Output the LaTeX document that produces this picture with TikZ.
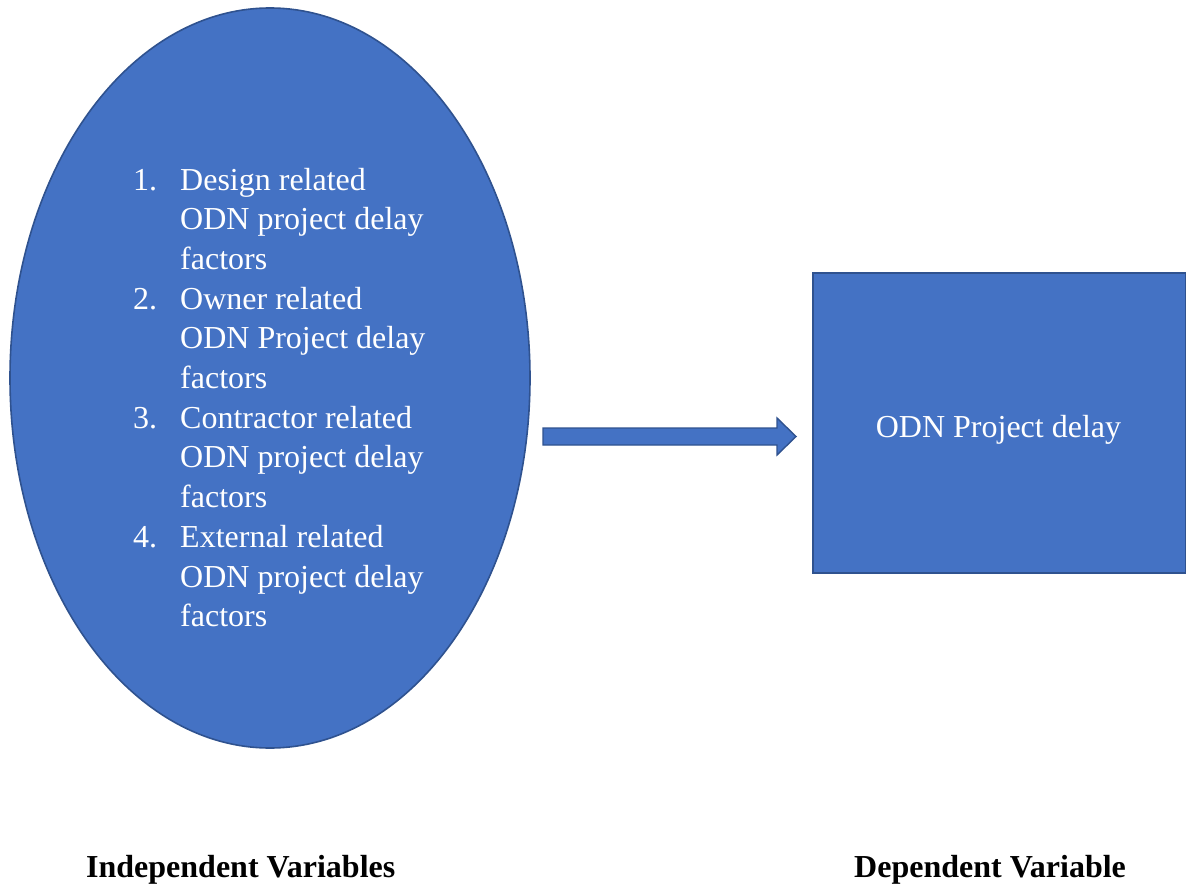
\documentclass[tikz,border=0pt]{standalone}
\usepackage{fontspec}
\setmainfont{Liberation Serif}
\usetikzlibrary{shapes.geometric,calc}
\definecolor{boxfill}{HTML}{4472C4}
\definecolor{boxline}{HTML}{2F528F}
\tikzset{
  shapefill/.style={fill=boxfill, draw=boxline, line width=1.6pt},
  whitetxt/.style={text=white, inner sep=0pt, font=\fontsize{32}{38}\selectfont},
  labeltxt/.style={text=black, inner sep=0pt, font=\fontsize{32}{38}\selectfont\bfseries},
}
\begin{document}
\begin{tikzpicture}[x=1pt,y=-1pt]
\useasboundingbox (0,0) rectangle (1186,886);
\node[shapefill, ellipse, minimum width=520pt, minimum height=740pt, inner sep=0pt] (ell) at (270,378) {};
\node[shapefill, rectangle, minimum width=373pt, minimum height=300pt, inner sep=0pt, anchor=north west] (box) at (812,272) {};
\node[whitetxt, anchor=base] (boxtxt) at (998.5,437) {ODN Project delay};
\foreach \n/\a/\b/\c [count=\i from 0] in {1/Design related/ODN project delay/factors, 2/Owner related/ODN Project delay/factors, 3/Contractor related/ODN project delay/factors, 4/External related/ODN project delay/factors}{
  \pgfmathsetmacro{\yy}{190+39.7*3*\i}
  \node[whitetxt, anchor=base west] (num\i) at (133,\yy) {\n.};
  \node[whitetxt, anchor=base west] (la\i) at (180,\yy) {\a};
  \node[whitetxt, anchor=base west] (lb\i) at (180,\yy+39.7) {\b};
  \node[whitetxt, anchor=base west] (lc\i) at (180,\yy+79.4) {\c};
}
\coordinate (as) at (543,436.5);
\coordinate (at) at (796,436.5);
\draw[shapefill, line width=1.4pt, line join=miter] ($(as)+(0,-8.5)$) -- ($(at)+(-19,-8.5)$) -- ($(at)+(-19,-18.5)$) -- (at) -- ($(at)+(-19,18.5)$) -- ($(at)+(-19,8.5)$) -- ($(as)+(0,8.5)$) -- cycle;
\node[labeltxt, anchor=base west] (indep) at (86,877) {Independent Variables};
\node[labeltxt, anchor=base west] (dep) at (854,877) {Dependent Variable};
\end{tikzpicture}
\end{document}
